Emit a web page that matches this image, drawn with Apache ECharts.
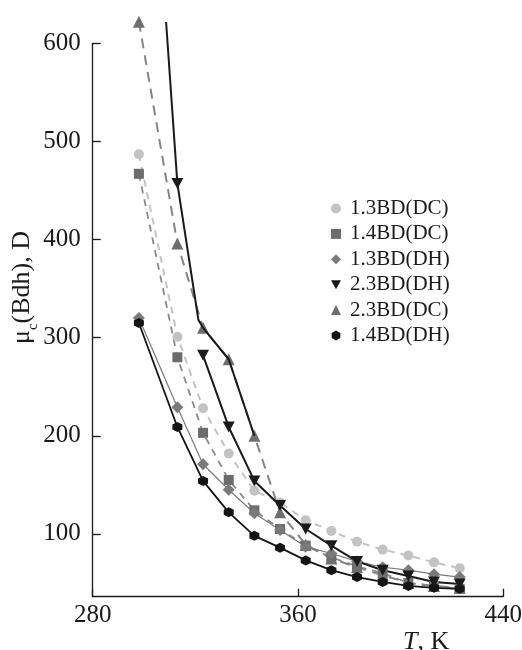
<!DOCTYPE html>
<html><head><meta charset="utf-8">
<script src="https://cdn.jsdelivr.net/npm/echarts@6/dist/echarts.min.js"></script>
<style>html,body{margin:0;padding:0;background:#fff}#c{width:522px;height:650px}</style>
</head><body><div id="c"></div>
<script>
// Temperatures, K
const temps = [298, 313, 323, 333, 343, 353, 363, 373, 383, 393, 403, 413, 423];
const bd13DC = [487, 301, 228, 182, 144, 132, 114, 103, 92, 84, 78, 71, 65];
const bd14DC = [467, 280, 203, 155, 124, 105, 88, 76, 67, 60, 50, 47, 44];
const bd13DH = [320, 229, 171, 145, 121, 104, 87, 80, 72, 66, 63, 59, 56];
const temps23DH = [323, 333, 343, 353, 363, 373, 383, 393, 403, 413, 423];
const bd23DH = [282, 209, 154, 129, 105, 88, 72, 63, 57, 51, 49];
const bd23DC = [622, 396, 310, 278, 200, 122, 89, 75, 66, 58, 50, 47, 45];
const bd14DH = [315, 209, 154, 122, 98, 86, 73, 63, 56, 51, 47, 45, 44];
// upper solid black branch of 2.3BD(DH)
const tempsUpper = [308.6, 313, 321.2, 323, 333, 343];
const bdUpper = [621.7, 457, 318, 310, 278, 200];
const xTicks = [280, 360, 440];
const yTicks = [100, 200, 300, 400, 500, 600];

const FONT = 'Liberation Serif, Times New Roman, serif';
const invTri = 'path://M0,0L10,0L5,9Z';
const hex = 'path://M5,0L9.33,2.5L9.33,7.5L5,10L0.67,7.5L0.67,2.5Z';
const pts = (t, v) => t.map((x, i) => [x, v[i]]);

function mk(name, t, v, symbol, size, color, lineColor, width, type) {
  return {
    name, type: 'line', data: pts(t, v), symbol, symbolSize: size,
    showAllSymbol: true, clip: false,
    itemStyle: { color, borderWidth: 0 },
    lineStyle: { color: lineColor, width, type },
    emphasis: { disabled: true }
  };
}

const upperData = tempsUpper.map((x, i) => {
  const d = { value: [x, bdUpper[i]] };
  if (x === 313) { d.symbol = invTri; d.symbolSize = [12, 11]; }
  return d;
});

const series = [
  mk('1.3BD(DC)', temps, bd13DC, 'circle', 10, '#c3c3c3', '#c3c3c3', 2, [7, 6]),
  mk('1.4BD(DC)', temps, bd14DC, 'rect', 10, '#6c6c6c', '#8a8a8a', 1.8, [7, 6]),
  mk('2.3BD(DC)', temps, bd23DC, 'triangle', 12, '#6e6e6e', '#858585', 2, [10, 7]),
  mk('1.3BD(DH)', temps, bd13DH, 'diamond', 12, '#7a7a7a', '#7a7a7a', 1.2, 'solid'),
  mk('1.4BD(DH)', temps, bd14DH, hex, 10, '#141414', '#141414', 1.8, 'solid'),
  mk('2.3BD(DH)', temps23DH, bd23DH, invTri, [12, 11], '#1a1a1a', '#1a1a1a', 2, 'solid'),
  {
    name: 'upper', type: 'line', data: upperData, symbol: 'none', clip: false, z: 5,
    itemStyle: { color: '#1a1a1a' }, lineStyle: { color: '#1a1a1a', width: 2 },
    emphasis: { disabled: true }
  }
];

const chart = echarts.init(document.getElementById('c'), null, { renderer: 'canvas' });
chart.setOption({
  animation: false,
  backgroundColor: '#fff',
  grid: { left: 92.7, right: 18.7, top: 43.3, bottom: 53.3, containLabel: false, outerBoundsMode: 'none' },
  title: {
    text: '{i|T}{n|, K}', left: 398, top: 624,
    textStyle: { fontWeight: 'normal', rich: {
      i: { fontFamily: FONT, fontStyle: 'italic', fontWeight: 'normal', fontSize: 26, color: '#1a1a1a' },
      n: { fontFamily: FONT, fontWeight: 'normal', fontSize: 26, color: '#1a1a1a' }
    } }
  },
  legend: {
    orient: 'vertical', left: 326, top: 193, itemWidth: 10, itemHeight: 10, itemGap: 4.4,
    selectedMode: false,
    textStyle: { fontFamily: FONT, fontSize: 21, color: '#1a1a1a', lineHeight: 20, padding: [0, 0, 0, 4] },
    data: [
      { name: '1.3BD(DC)', icon: 'circle' },
      { name: '1.4BD(DC)', icon: 'rect' },
      { name: '1.3BD(DH)', icon: 'diamond' },
      { name: '2.3BD(DH)', icon: invTri },
      { name: '2.3BD(DC)', icon: 'triangle' },
      { name: '1.4BD(DH)', icon: hex }
    ]
  },
  xAxis: {
    type: 'value', min: 280, max: 440, interval: 80,
    axisLine: { lineStyle: { color: '#1a1a1a', width: 1.3 } },
    axisTick: { inside: true, length: 8, lineStyle: { color: '#1a1a1a', width: 1.3 } },
    axisLabel: { fontFamily: FONT, fontSize: 25, color: '#1a1a1a', margin: 6,
      customValues: xTicks },
    splitLine: { show: false }
  },
  yAxis: {
    type: 'value', min: 36, max: 600,
    name: '{a|μ}{s|c}{a|(Bdh), D}', nameLocation: 'middle', nameGap: 52, nameRotate: 90,
    nameMoveOverlap: false,
    nameTextStyle: { padding: [0, 0, 0, 65], rich: {
      a: { fontFamily: FONT, fontSize: 26, color: '#1a1a1a', lineHeight: 32, verticalAlign: 'top' },
      s: { fontFamily: FONT, fontSize: 15, color: '#1a1a1a', lineHeight: 32, verticalAlign: 'bottom' }
    } },
    axisLine: { show: true, lineStyle: { color: '#1a1a1a', width: 1.3 } },
    axisTick: { inside: true, length: 8, lineStyle: { color: '#1a1a1a', width: 1.3 }, customValues: yTicks },
    axisLabel: { fontFamily: FONT, fontSize: 25, color: '#1a1a1a', margin: 12, customValues: yTicks },
    splitLine: { show: false }
  },
  series
});
</script>
</body></html>
